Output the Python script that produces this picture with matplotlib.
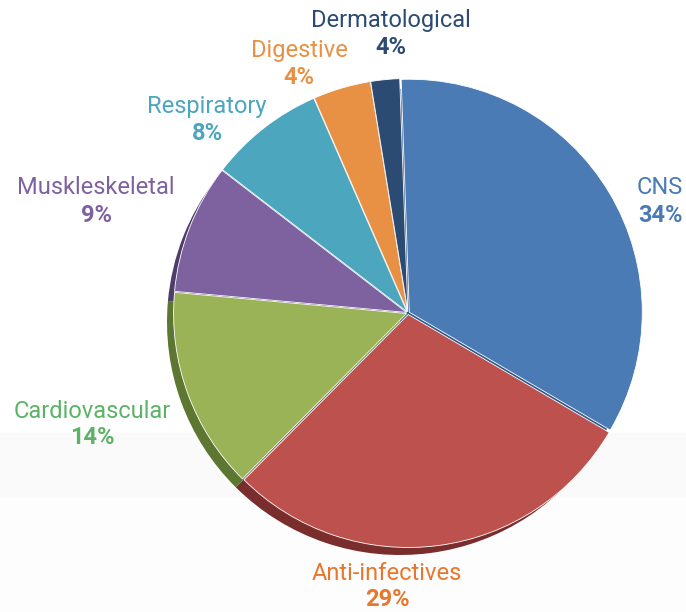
import matplotlib.pyplot as plt

categories = ['CNS', 'Anti-infectives', 'Cardiovascular', 'Muskleskeletal',
              'Respiratory', 'Digestive', 'Dermatological']
shares = [34, 29, 14, 9, 8, 4, 2]
pct_labels = ['34%', '29%', '14%', '9%', '8%', '4%', '4%']

colors = ['#4a7bb5', '#bd514e', '#9ab357', '#7e62a0', '#4ba6be', '#e89044', '#2c4b72']
dark_colors = ['#2e5688', '#7a2d2d', '#5d7733', '#4e3c69', '#2d6f80', '#a5612a', '#1c3050']
label_colors = ['#4a7bb5', '#e8772e', '#5cb366', '#7e62a0', '#4ba6be', '#e89044', '#2c4b72']

# label anchor points in pixels (x, y from top) and alignment
label_pos = [(683, 188, 'right'), (387, 573, 'center'), (92, 411, 'center'),
             (96, 188, 'center'), (207, 106, 'center'), (299, 50, 'center'),
             (391, 20, 'center')]

W, H = 686, 612
fig = plt.figure(figsize=(W / 100, H / 100), dpi=100)
ax = fig.add_axes([0, 0, 1, 1])

# faint grey band in the background
ax.axhspan(H - 498, H - 433, color='#fafafa', zorder=0)
ax.axhspan(0, H - 498, color='#fdfdfd', zorder=0)

cx, cy, r = 408, H - 313, 233

# darker "depth" copy, shifted down-left
ax.pie(shares, colors=dark_colors, startangle=92, counterclock=False,
       center=(cx - 8, cy - 9), radius=r, frame=True,
       wedgeprops=dict(linewidth=0))
ax.pie(shares, colors=colors, startangle=92, counterclock=False,
       center=(cx, cy), radius=r, frame=True, explode=[1.5] * len(shares),
       wedgeprops=dict(linewidth=0.6, edgecolor='#ffffff'))

for name, pct, col, (x, y, ha) in zip(categories, pct_labels, label_colors, label_pos):
    ax.text(x, H - y, name, color=col, fontsize=17, ha=ha, va='center',
            family='Roboto')
    ax.text(x, H - y - 27, pct, color=col, fontsize=17, ha=ha, va='center',
            family='Roboto', fontweight='bold')

ax.set_xlim(0, W)
ax.set_ylim(0, H)
ax.set_aspect('equal')
ax.axis('off')

plt.savefig('out.png', dpi=100)
